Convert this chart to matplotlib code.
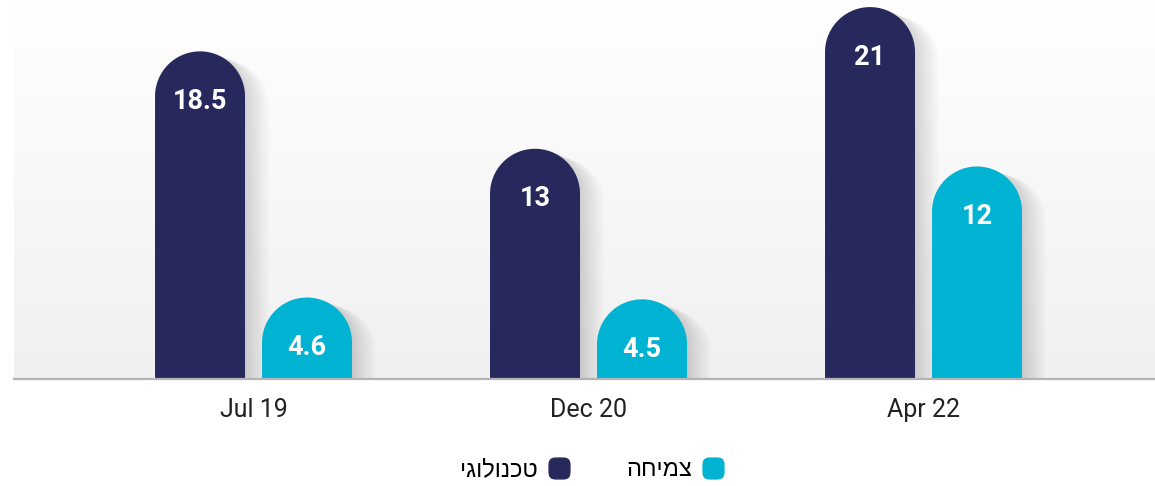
import numpy as np
import matplotlib.pyplot as plt
from matplotlib.path import Path
from matplotlib.patches import Polygon
from matplotlib.lines import Line2D
from matplotlib.colors import LinearSegmentedColormap

# data
periods = ["Jul 19", "Dec 20", "Apr 22"]
tech = [18.5, 13, 21]
growth = [4.6, 4.5, 12]
tech_label = "טכנולוגי"
growth_label = "צמיחה"

navy = "#27285c"
cyan = "#00b3d3"

W, H = 11.55, 4.86
fig = plt.figure(figsize=(W, H), dpi=100)
ax_rect = [14 / 1155, (486 - 379) / 486, (1155 - 14) / 1155, 379 / 486]
ax = fig.add_axes(ax_rect)

xlim = (-0.715, 2.691)
ylim = (0, 21.4)
ax.set_xlim(*xlim)
ax.set_ylim(*ylim)

# pixels per data unit, used to keep the bar tops round
px_x = ax_rect[2] * W * 100 / (xlim[1] - xlim[0])
px_y = ax_rect[3] * H * 100 / (ylim[1] - ylim[0])

# background gradient: white at top, light grey at the baseline
grad = np.linspace(0, 1, 256).reshape(-1, 1)
bg_cmap = LinearSegmentedColormap.from_list("bg", ["#ffffff", "#f0f0f0"])
ax.imshow(grad, cmap=bg_cmap, extent=[*xlim, *ylim], aspect="auto",
          origin="upper", zorder=0)

bar_w = 90 / px_x
offset = 53.5 / px_x


def round_bar(xc, h, w):
    rx = w / 2
    ry = rx * px_x / px_y
    t = np.linspace(0, np.pi, 60)
    arc = np.column_stack([xc + rx * np.cos(t), (h - ry) + ry * np.sin(t)])
    pts = np.vstack([[xc + rx, 0], arc, [xc - rx, 0]])
    return pts


def draw_bar(xc, h, color):
    pts = round_bar(xc, h, bar_w)
    # soft shadow on the right
    for k in range(1, 20):
        sh = pts.copy()
        sh[:, 0] += (k * 1.3) / px_x
        sh[:, 1] -= (k * 0.5) / px_y
        ax.add_patch(Polygon(sh, closed=True, facecolor="#000000",
                             edgecolor="none", alpha=0.009, zorder=1))
    ax.add_patch(Polygon(pts, closed=True, facecolor=color,
                         edgecolor="none", zorder=2))
    val = "%g" % h
    ax.text(xc, h - 50 / px_y, val, ha="center", va="center",
            color="white", fontsize=19.5, fontweight="bold",
            family="Roboto", zorder=3)


x = np.arange(len(periods))
for i in range(len(periods)):
    draw_bar(x[i] - offset, tech[i], navy)
    draw_bar(x[i] + offset, growth[i], cyan)

for s in ["top", "left", "right"]:
    ax.spines[s].set_visible(False)
ax.spines["bottom"].set_color("#b3b3b3")
ax.spines["bottom"].set_linewidth(1.6)
ax.spines["bottom"].set_zorder(4)
ax.set_yticks([])
ax.set_xticks(x)
ax.set_xticklabels(periods, fontsize=18, family="Roboto", color="#222222")
ax.tick_params(axis="x", length=0, pad=14)

# legend, marker on the right of the text (RTL)
tt = np.linspace(0, 2 * np.pi, 120)
n = 4
mx = np.sign(np.cos(tt)) * np.abs(np.cos(tt)) ** (2 / n)
my = np.sign(np.sin(tt)) * np.abs(np.sin(tt)) ** (2 / n)
rsq = Path(np.column_stack([mx, my]), closed=True)

handles = [
    Line2D([], [], marker=rsq, linestyle="none", color=navy, markersize=15),
    Line2D([], [], marker=rsq, linestyle="none", color=cyan, markersize=15),
]
labels = [tech_label[::-1], growth_label[::-1]]
fig.legend(handles, labels, ncol=2, markerfirst=False, frameon=False,
           loc="center", bbox_to_anchor=(0.513, 0.033),
           prop={"family": "Liberation Sans", "size": 17},
           handlelength=1.0, handletextpad=0.4, columnspacing=2.35)

fig.savefig("out.png", dpi=100)
